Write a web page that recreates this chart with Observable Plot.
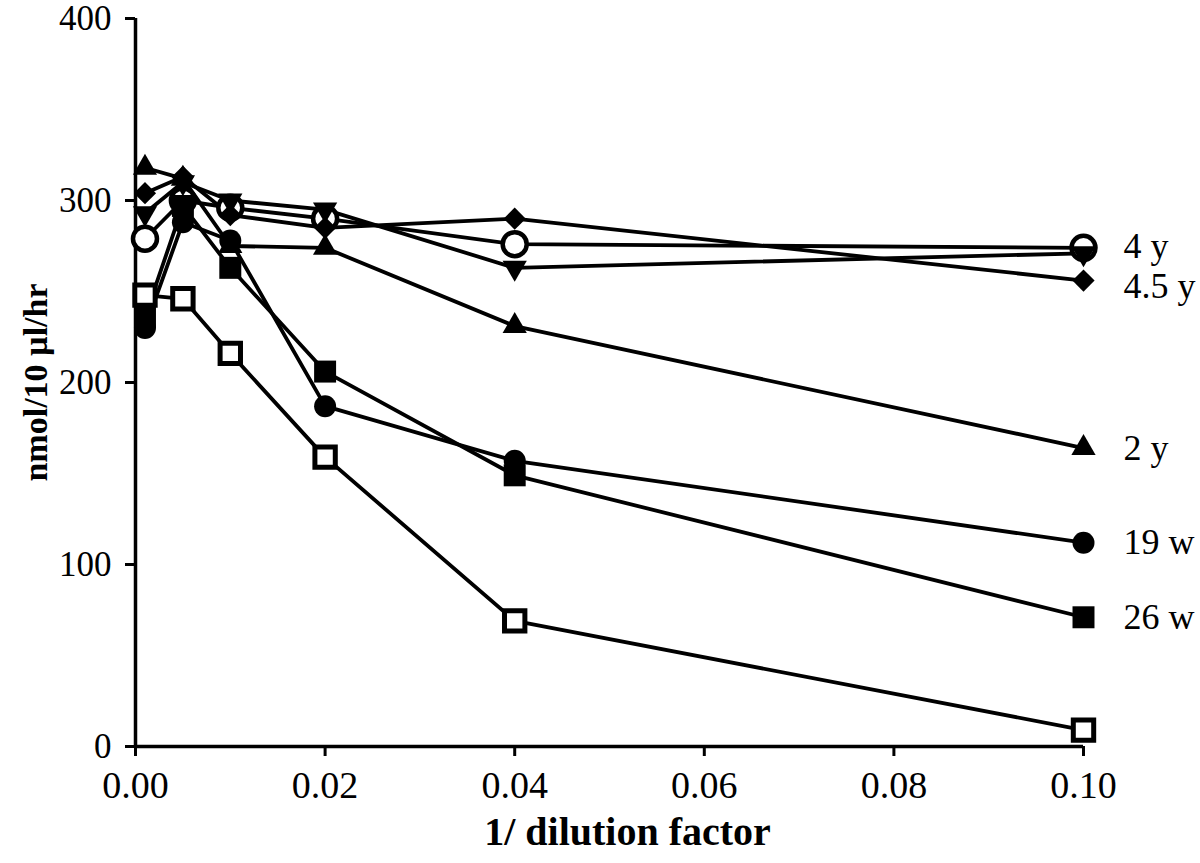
<!DOCTYPE html>
<html>
<head>
<meta charset="utf-8">
<script src="https://cdn.jsdelivr.net/npm/d3@7"></script>
<script src="https://cdn.jsdelivr.net/npm/@observablehq/plot@0.6"></script>
<style>
  html, body { margin: 0; padding: 0; background: #fff; }
  #chart svg { display: block; }
</style>
</head>
<body>
<div id="chart"></div>
<script>
// x values: 1 / dilution factor
const dilution = [0.001, 0.005, 0.01, 0.02, 0.04, 0.10];

// series values (nmol/10 µl/hr)
const s4y      = [279, 300, 296, 290, 276, 274]; // open circle
const sInv     = [293, 310, 300, 295, 263, 271]; // inverted triangle
const s45y     = [304, 313, 292, 285, 290, 256]; // diamond
const s2y      = [318, 312, 275, 274, 231, 164]; // triangle
const s19w     = [230, 288, 278, 187, 157, 112]; // filled circle
const s26w     = [236, 297, 263, 206, 149, 71];  // filled square
const sOpenSq  = [248, 246, 216, 159, 69, 9];    // open square

const seriesNames = ["4 y", "inv", "4.5 y", "2 y", "19 w", "26 w", "open sq"];
const seriesVals  = [s4y, sInv, s45y, s2y, s19w, s26w, sOpenSq];

// end labels
const labelNames = ["4 y", "4.5 y", "2 y", "19 w", "26 w"];
const labelY     = [275, 253, 164, 112, 71];

const yTicks = [0, 100, 200, 300, 400];
const xTicks = [0, 0.02, 0.04, 0.06, 0.08, 0.10];

const rows = [];
seriesNames.forEach((name, i) => {
  seriesVals[i].forEach((v, j) => rows.push({series: name, x: dilution[j], y: v}));
});
const labels = labelNames.map((n, i) => ({label: n, x: 0.10, y: labelY[i]}));

const triangleDown = {
  draw(context, size) {
    const sqrt3 = Math.sqrt(3);
    const y = -Math.sqrt(size / (sqrt3 * 3));
    context.moveTo(0, -y * 2);
    context.lineTo(-sqrt3 * y, y);
    context.lineTo(sqrt3 * y, y);
    context.closePath();
  }
};

const of = (name) => rows.filter(d => d.series === name);
const font = "'Liberation Serif', 'Times New Roman', serif";

const chart = Plot.plot({
  width: 1200,
  height: 863,
  marginLeft: 135,
  marginRight: 117,
  marginTop: 18,
  marginBottom: 117,
  style: {fontFamily: font, background: "#fff", color: "#000"},
  x: {domain: [0, 0.10]},
  y: {domain: [0, 400]},
  marks: [
    Plot.axisY({ticks: yTicks, tickSize: 10, tickPadding: 14, fontSize: 35, strokeWidth: 3, label: null, tickFormat: d3.format("d")}),
    Plot.axisX({ticks: xTicks, tickSize: 10, tickPadding: 15, fontSize: 38, strokeWidth: 3, label: null, tickFormat: d3.format(".2f")}),
    Plot.ruleX([0], {strokeWidth: 3.5, stroke: "#000"}),
    Plot.ruleY([0], {strokeWidth: 3.5, stroke: "#000"}),
    Plot.lineY(rows, {x: "x", y: "y", z: "series", stroke: "#000", strokeWidth: 3.8}),
    Plot.dot(of("4 y"), {x: "x", y: "y", symbol: "circle", r: 12, fill: "#fff", stroke: "#000", strokeWidth: 4.5}),
    Plot.dot(of("inv"), {x: "x", y: "y", symbol: triangleDown, r: 9, fill: "#000", stroke: "none"}),
    Plot.dot(of("4.5 y"), {x: "x", y: "y", symbol: "diamond2", r: 10, fill: "#000", stroke: "none"}),
    Plot.dot(of("2 y"), {x: "x", y: "y", symbol: "triangle", r: 9, fill: "#000", stroke: "none"}),
    Plot.dot(of("19 w"), {x: "x", y: "y", symbol: "circle", r: 11, fill: "#000", stroke: "none"}),
    Plot.dot(of("26 w"), {x: "x", y: "y", symbol: "square", r: 12.4, fill: "#000", stroke: "none"}),
    Plot.dot(of("open sq"), {x: "x", y: "y", symbol: "square", r: 11.5, fill: "#fff", stroke: "#000", strokeWidth: 5}),
    Plot.text(labels, {x: "x", y: "y", text: "label", dx: 40, textAnchor: "start", fontSize: 36, fill: "#000"}),
    Plot.text(["nmol/10 µl/hr"], {frameAnchor: "left", dx: -99, rotate: -90, textAnchor: "middle", fontSize: 34, fontWeight: "bold", fill: "#000"}),
    Plot.text(["1/ dilution factor"], {frameAnchor: "bottom", dx: 18, dy: 98, textAnchor: "middle", fontSize: 40, fontWeight: "bold", fill: "#000"})
  ]
});

document.getElementById("chart").appendChild(chart);
</script>
</body>
</html>
